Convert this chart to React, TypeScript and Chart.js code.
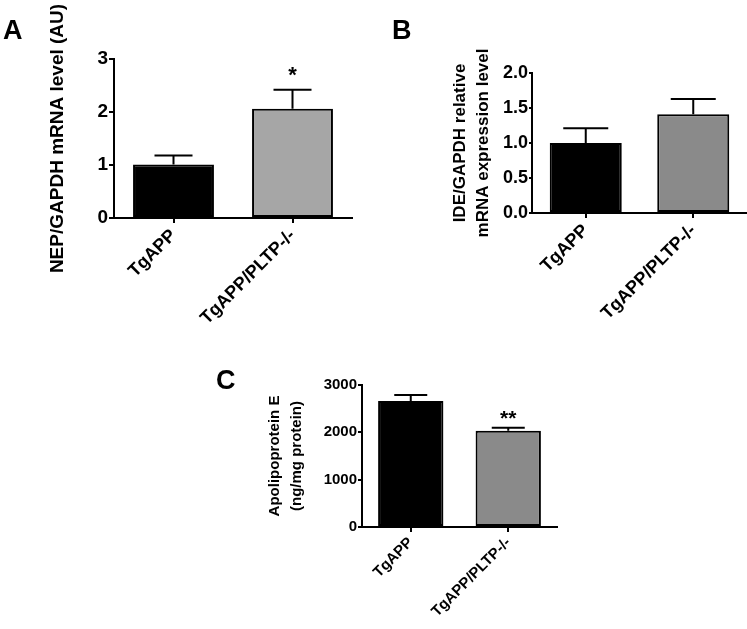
import React, { useEffect, useRef } from "react";
import { Chart, registerables } from "chart.js";

Chart.register(...registerables);

// ---------- data ----------
const categories = ["TgAPP", "TgAPP/PLTP-/-"];

const nepMeans = [1.01, 2.06];
const nepErrors = [0.17, 0.36];
const nepSignificance = ["", "*"];

const ideMeans = [1.0, 1.41];
const ideErrors = [0.21, 0.22];
const ideSignificance = ["", ""];

const apoeMeans = [2660, 2035];
const apoeErrors = [128, 60];
const apoeSignificance = ["", "**"];

const FONT = 'Arial, "Liberation Sans", Helvetica, sans-serif';

const errorBarPlugin = {
  id: "errorBars",
  afterDatasetsDraw(chart: any, _args: any, opts: any) {
    const { ctx } = chart;
    const meta = chart.getDatasetMeta(0);
    const yScale = chart.scales.y;
    const values = chart.data.datasets[0].data as number[];
    meta.data.forEach((bar: any, i: number) => {
      const v = values[i];
      const yTop = yScale.getPixelForValue(v + opts.errors[i]);
      const yBar = yScale.getPixelForValue(v);
      ctx.save();
      ctx.strokeStyle = "#000";
      ctx.lineWidth = 2;
      ctx.beginPath();
      ctx.moveTo(bar.x, yBar);
      ctx.lineTo(bar.x, yTop);
      ctx.moveTo(bar.x - opts.capWidth / 2, yTop);
      ctx.lineTo(bar.x + opts.capWidth / 2, yTop);
      ctx.stroke();
      const s = opts.sig[i];
      if (s) {
        ctx.fillStyle = "#000";
        ctx.font = `bold ${opts.sigSize}px ${FONT}`;
        ctx.textAlign = "center";
        ctx.textBaseline = "alphabetic";
        ctx.fillText(s, bar.x, yTop - opts.sigOffset);
      }
      ctx.restore();
    });
  },
};

type PanelProps = {
  left: number;
  top: number;
  width: number;
  height: number;
  means: number[];
  errors: number[];
  sig: string[];
  colors: string[];
  yMax: number;
  yStep: number;
  decimals: number;
  yTitle: string | string[];
  titleSize: number;
  titleLineHeight: number;
  titlePad: number;
  tickSize: number;
  tickLen: number;
  catSize: number;
  yWidth: number;
  padTop: number;
  padRight: number;
  xHeight: number;
  barPct: number;
  capWidth: number;
  sigSize: number;
  sigOffset: number;
};

function Panel(p: PanelProps) {
  const ref = useRef<HTMLCanvasElement | null>(null);
  useEffect(() => {
    if (!ref.current) return;
    const black = "#000";
    const chart = new Chart(ref.current, {
      type: "bar",
      data: {
        labels: categories,
        datasets: [
          {
            data: p.means,
            backgroundColor: p.colors,
            borderColor: black,
            borderWidth: 2,
            borderSkipped: false,
            barPercentage: p.barPct,
            categoryPercentage: 1,
          },
        ],
      },
      options: {
        responsive: false,
        animation: false,
        devicePixelRatio: 1,
        layout: { padding: { left: 0, top: p.padTop, right: p.padRight, bottom: 0 } },
        plugins: {
          legend: { display: false },
          tooltip: { enabled: false },
          errorBars: {
            errors: p.errors,
            sig: p.sig,
            capWidth: p.capWidth,
            sigSize: p.sigSize,
            sigOffset: p.sigOffset,
          },
        } as any,
        scales: {
          x: {
            type: "category",
            offset: true,
            grid: {
              display: true,
              offset: false,
              drawOnChartArea: false,
              drawTicks: true,
              tickLength: 5,
              color: black,
              lineWidth: 2,
            },
            border: { display: true, color: black, width: 2 },
            ticks: {
              color: black,
              font: { family: FONT, size: p.catSize, weight: "bold" },
              minRotation: 45,
              maxRotation: 45,
              padding: 2,
              autoSkip: false,
            },
            afterFit: (s: any) => {
              s.height = p.xHeight;
            },
          },
          y: {
            min: 0,
            max: p.yMax,
            grid: {
              display: true,
              drawOnChartArea: false,
              drawTicks: true,
              tickLength: p.tickLen,
              color: black,
              lineWidth: 2,
            },
            border: { display: true, color: black, width: 2 },
            ticks: {
              stepSize: p.yStep,
              color: black,
              padding: 1,
              font: { family: FONT, size: p.tickSize, weight: "bold" },
              callback: (v: any) => Number(v).toFixed(p.decimals),
            },
            title: {
              display: true,
              text: p.yTitle,
              color: black,
              font: { family: FONT, size: p.titleSize, weight: "bold", lineHeight: p.titleLineHeight },
              padding: { top: p.titlePad, bottom: 0 },
            },
            afterFit: (s: any) => {
              s.width = p.yWidth;
            },
          },
        },
      },
      plugins: [errorBarPlugin],
    } as any);
    return () => chart.destroy();
  }, []);
  return (
    <canvas
      ref={ref}
      width={p.width}
      height={p.height}
      style={{ position: "absolute", left: p.left, top: p.top, width: p.width, height: p.height }}
    />
  );
}

const letterStyle = (left: number, top: number): React.CSSProperties => ({
  position: "absolute",
  left,
  top,
  fontFamily: FONT,
  fontWeight: "bold",
  fontSize: 27,
  lineHeight: "26px",
  color: "#000",
});

export default function App() {
  return (
    <div style={{ position: "absolute", left: 0, top: 0, width: 747, height: 629, background: "#fff", overflow: "hidden" }}>
      <Panel
        left={0}
        top={0}
        width={360}
        height={330}
        means={nepMeans}
        errors={nepErrors}
        sig={nepSignificance}
        colors={["#000000", "#a6a6a6"]}
        yMax={3}
        yStep={1}
        decimals={0}
        yTitle="NEP/GAPDH mRNA level (AU)"
        titleSize={19}
        titleLineHeight={1.2}
        titlePad={46}
        tickSize={19}
        tickLen={5}
        catSize={18}
        yWidth={114}
        padTop={59}
        padRight={8}
        xHeight={112}
        barPct={0.68}
        capWidth={38}
        sigSize={22}
        sigOffset={8}
      />
      <Panel
        left={370}
        top={0}
        width={377}
        height={330}
        means={ideMeans}
        errors={ideErrors}
        sig={ideSignificance}
        colors={["#000000", "#8a8a8a"]}
        yMax={2}
        yStep={0.5}
        decimals={1}
        yTitle={["IDE/GAPDH relative", "mRNA expression level"]}
        titleSize={17}
        titleLineHeight={1.4}
        titlePad={78}
        tickSize={18}
        tickLen={3}
        catSize={18}
        yWidth={162}
        padTop={73}
        padRight={0}
        xHeight={117}
        barPct={0.67}
        capWidth={45}
        sigSize={21}
        sigOffset={6}
      />
      <Panel
        left={200}
        top={330}
        width={360}
        height={299}
        means={apoeMeans}
        errors={apoeErrors}
        sig={apoeSignificance}
        colors={["#000000", "#8a8a8a"]}
        yMax={3000}
        yStep={1000}
        decimals={0}
        yTitle={["Apolipoprotein E", "(ng/mg protein)"]}
        titleSize={15}
        titleLineHeight={1.45}
        titlePad={64}
        tickSize={15}
        tickLen={4}
        catSize={15}
        yWidth={162}
        padTop={55}
        padRight={3}
        xHeight={102}
        barPct={0.67}
        capWidth={33}
        sigSize={21}
        sigOffset={3}
      />
      <div style={letterStyle(3, 17)}>A</div>
      <div style={letterStyle(392, 17)}>B</div>
      <div style={letterStyle(216, 367)}>C</div>
    </div>
  );
}
